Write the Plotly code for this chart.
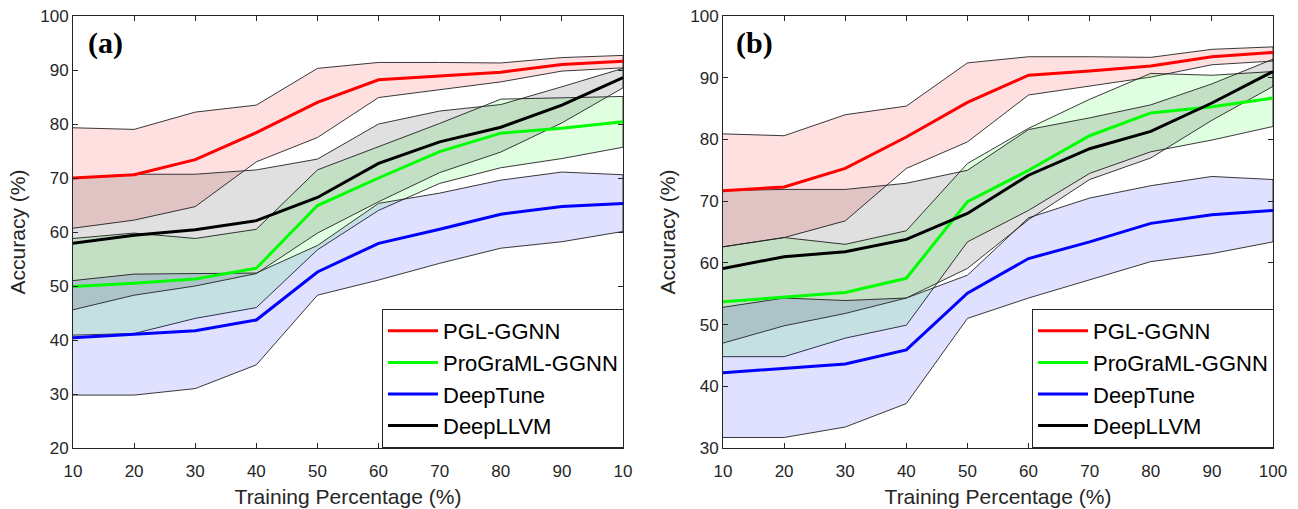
import plotly.graph_objects as go

pct = [10, 20, 30, 40, 50, 60, 70, 80, 90, 100]
series_names = ["PGL-GGNN", "ProGraML-GGNN", "DeepTune", "DeepLLVM"]

# ---------- Panel (a) ----------
a_pgl_mean = [70.0, 70.6, 73.4, 78.4, 84.0, 88.2, 88.9, 89.6, 91.0, 91.6]
a_pgl_up   = [79.3, 79.0, 82.2, 83.5, 90.3, 91.4, 91.4, 91.3, 92.3, 92.7]
a_pgl_lo   = [60.7, 62.2, 64.7, 73.0, 77.5, 84.9, 86.3, 87.8, 89.8, 90.4]

a_pro_mean = [49.9, 50.5, 51.3, 53.3, 64.9, 70.0, 74.9, 78.3, 79.2, 80.4]
a_pro_up   = [58.8, 59.8, 58.8, 60.5, 71.5, 75.8, 80.1, 84.6, 84.9, 85.1]
a_pro_lo   = [40.9, 41.2, 44.0, 46.0, 56.7, 64.0, 69.0, 71.9, 73.6, 75.7]

a_dt_mean  = [40.4, 41.1, 41.7, 43.7, 52.6, 57.9, 60.5, 63.3, 64.7, 65.3]
a_dt_up    = [51.0, 52.2, 52.3, 52.4, 57.5, 65.3, 67.2, 69.6, 71.1, 70.6]
a_dt_lo    = [29.8, 29.8, 31.0, 35.4, 48.3, 51.1, 54.2, 57.0, 58.2, 60.1]

a_ll_mean  = [57.9, 59.4, 60.4, 62.1, 66.4, 72.7, 76.7, 79.4, 83.5, 88.6]
a_ll_up    = [70.0, 70.7, 70.7, 71.5, 73.5, 80.0, 82.4, 83.6, 86.9, 90.3]
a_ll_lo    = [45.6, 48.3, 50.0, 52.3, 59.8, 65.6, 71.0, 74.8, 80.2, 86.7]

# ---------- Panel (b) ----------
b_pgl_mean = [71.7, 72.3, 75.3, 80.4, 86.0, 90.4, 91.1, 91.9, 93.4, 94.1]
b_pgl_up   = [80.9, 80.6, 84.0, 85.4, 92.4, 93.4, 93.4, 93.3, 94.6, 95.0]
b_pgl_lo   = [62.6, 64.1, 66.8, 75.3, 79.6, 87.2, 88.7, 90.1, 92.1, 92.7]

b_pro_mean = [53.7, 54.4, 55.2, 57.5, 69.9, 75.0, 80.6, 84.3, 85.3, 86.7]
b_pro_up   = [62.6, 64.1, 63.0, 65.2, 76.1, 81.8, 86.5, 90.7, 90.4, 91.0]
b_pro_lo   = [44.8, 44.8, 47.8, 49.9, 63.4, 68.5, 74.5, 78.0, 79.9, 82.1]

b_dt_mean  = [42.2, 42.9, 43.6, 45.9, 55.1, 60.7, 63.4, 66.4, 67.8, 68.5]
b_dt_up    = [52.8, 54.3, 53.9, 54.3, 58.0, 67.3, 70.5, 72.5, 74.0, 73.5]
b_dt_lo    = [31.7, 31.7, 33.4, 37.2, 51.0, 54.3, 57.2, 60.2, 61.5, 63.4]

b_ll_mean  = [59.1, 61.0, 61.8, 63.8, 68.0, 74.2, 78.5, 81.3, 85.9, 91.0]
b_ll_up    = [71.7, 71.9, 71.9, 72.9, 75.0, 81.6, 83.5, 85.6, 89.0, 93.0]
b_ll_lo    = [47.0, 49.8, 51.8, 54.3, 59.1, 67.0, 73.5, 77.0, 83.1, 88.6]

x_ticktext_a = ["10", "20", "30", "40", "50", "60", "70", "80", "90", "10"]
x_ticktext_b = ["10", "20", "30", "40", "50", "60", "70", "80", "90", "100"]
y_ticks_a = [20, 30, 40, 50, 60, 70, 80, 90, 100]
y_ticks_b = [30, 40, 50, 60, 70, 80, 90, 100]

line_colors = ["#FF0000", "#00FF00", "#0000FF", "#000000"]
fill_colors = ["rgba(255,0,0,0.12)", "rgba(0,255,0,0.12)",
               "rgba(0,0,255,0.12)", "rgba(0,0,0,0.12)"]

panels = [
    dict(xa="x", ya="y", legend="legend",
         means=[a_pgl_mean, a_pro_mean, a_dt_mean, a_ll_mean],
         ups=[a_pgl_up, a_pro_up, a_dt_up, a_ll_up],
         los=[a_pgl_lo, a_pro_lo, a_dt_lo, a_ll_lo]),
    dict(xa="x2", ya="y2", legend="legend2",
         means=[b_pgl_mean, b_pro_mean, b_dt_mean, b_ll_mean],
         ups=[b_pgl_up, b_pro_up, b_dt_up, b_ll_up],
         los=[b_pgl_lo, b_pro_lo, b_dt_lo, b_ll_lo]),
]

fig = go.Figure()
for p in panels:
    for i in range(4):
        fig.add_trace(go.Scatter(
            x=pct + pct[::-1], y=p["ups"][i] + p["los"][i][::-1],
            fill="toself", fillcolor=fill_colors[i], mode="lines",
            line=dict(color="rgba(35,35,35,0.9)", width=1),
            xaxis=p["xa"], yaxis=p["ya"], showlegend=False, hoverinfo="skip"))
    for i in range(4):
        fig.add_trace(go.Scatter(
            x=pct, y=p["means"][i], mode="lines", name=series_names[i],
            line=dict(color=line_colors[i], width=3),
            xaxis=p["xa"], yaxis=p["ya"], legend=p["legend"], showlegend=True))

W, H = 1298, 509
axis_common = dict(showline=True, linecolor="#262626", linewidth=1, mirror="allticks",
                   ticks="inside", ticklen=5, tickcolor="#262626", showgrid=False,
                   zeroline=False, automargin=False,
                   tickfont=dict(family="Liberation Sans", size=17, color="#262626"))
xaxis_extra = dict(ticklabelstandoff=8)
title_font = dict(family="Liberation Sans", size=21, color="#262626")

fig.update_layout(
    width=W, height=H, autosize=False,
    margin=dict(l=0, r=0, t=0, b=0),
    paper_bgcolor="white", plot_bgcolor="white",
    xaxis=dict(domain=[73 / W, 623 / W], range=[10, 100], tickvals=pct,
               ticktext=x_ticktext_a, anchor="y",
               title=dict(text="Training Percentage (%)", font=title_font, standoff=8),
               **axis_common, **xaxis_extra),
    yaxis=dict(domain=[61 / H, 493 / H], range=[20, 100], tickvals=y_ticks_a, anchor="x",
               title=dict(text="Accuracy (%)", font=title_font, standoff=8),
               **axis_common),
    xaxis2=dict(domain=[723 / W, 1273 / W], range=[10, 100], tickvals=pct,
                ticktext=x_ticktext_b, anchor="y2",
                title=dict(text="Training Percentage (%)", font=title_font, standoff=8),
                **axis_common, **xaxis_extra),
    yaxis2=dict(domain=[61 / H, 493 / H], range=[30, 100], tickvals=y_ticks_b, anchor="x2",
                title=dict(text="Accuracy (%)", font=title_font, standoff=8),
                **axis_common),
    legend=dict(x=624 / W, xanchor="right", y=61 / H, yanchor="bottom",
                bgcolor="white", bordercolor="#262626", borderwidth=1,
                font=dict(family="Liberation Sans", size=22, color="black"),
                itemwidth=50, tracegroupgap=0, traceorder="normal"),
    legend2=dict(x=1274 / W, xanchor="right", y=61 / H, yanchor="bottom",
                 bgcolor="white", bordercolor="#262626", borderwidth=1,
                 font=dict(family="Liberation Sans", size=22, color="black"),
                 itemwidth=50, tracegroupgap=0, traceorder="normal"),
    annotations=[
        dict(text="<b>(a)</b>", x=86 / W, y=(H - 43) / H, xref="paper", yref="paper",
             xanchor="left", yanchor="middle", showarrow=False,
             font=dict(family="Liberation Serif", size=30, color="black")),
        dict(text="<b>(b)</b>", x=734 / W, y=(H - 43) / H, xref="paper", yref="paper",
             xanchor="left", yanchor="middle", showarrow=False,
             font=dict(family="Liberation Serif", size=30, color="black")),
    ],
)

fig.write_html("out.html")
